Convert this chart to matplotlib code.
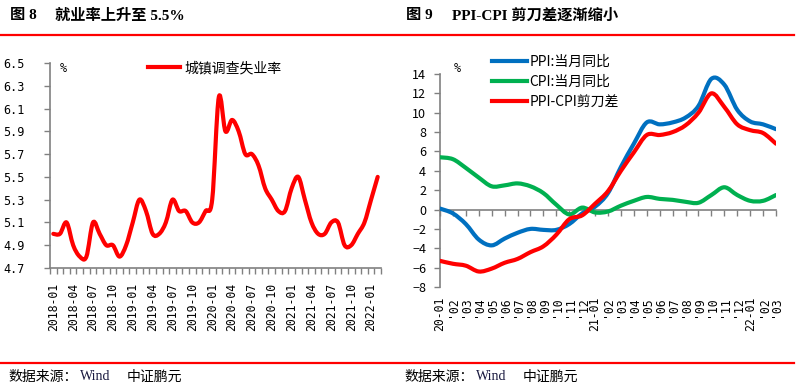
import matplotlib
matplotlib.use("Agg")
import matplotlib.pyplot as plt
import numpy as np
from matplotlib.path import Path
from matplotlib.patches import PathPatch
from matplotlib.lines import Line2D

plt.rcParams['font.family'] = ['Noto Sans CJK SC', 'DejaVu Sans']

# ---------------- data ----------------
months_left = [f"{y}-{m:02d}" for y in range(2018, 2023) for m in range(1, 13)][:50]
unemployment = [5.0, 5.0, 5.1, 4.9, 4.8, 4.8, 5.1, 5.0, 4.9, 4.9, 4.8, 4.9,
                5.1, 5.3, 5.2, 5.0, 5.0, 5.1, 5.3, 5.2, 5.2, 5.1, 5.1, 5.2,
                5.3, 6.2, 5.9, 6.0, 5.9, 5.7, 5.7, 5.6, 5.4, 5.3, 5.2, 5.2,
                5.4, 5.5, 5.3, 5.1, 5.0, 5.0, 5.1, 5.1, 4.9, 4.9, 5.0, 5.1,
                5.3, 5.5]
left_yticks = [4.7, 4.9, 5.1, 5.3, 5.5, 5.7, 5.9, 6.1, 6.3, 6.5]

right_labels = ["20-01", "'02", "'03", "'04", "'05", "'06", "'07", "'08", "'09", "'10", "'11", "'12",
                "21-01", "'02", "'03", "'04", "'05", "'06", "'07", "'08", "'09", "'10", "'11", "'12",
                "22-01", "'02", "'03"]
ppi = [0.1, -0.4, -1.5, -3.1, -3.7, -3.0, -2.4, -2.0, -2.1, -2.1, -1.5, -0.4,
       0.3, 1.7, 4.4, 6.8, 9.0, 8.8, 9.0, 9.5, 10.7, 13.5, 12.9, 10.3,
       9.1, 8.8, 8.3]
cpi = [5.4, 5.2, 4.3, 3.3, 2.4, 2.5, 2.7, 2.4, 1.7, 0.5, -0.5, 0.2,
       -0.3, -0.2, 0.4, 0.9, 1.3, 1.1, 1.0, 0.8, 0.7, 1.5, 2.3, 1.5,
       0.9, 0.9, 1.5]
scissors = [-5.3, -5.6, -5.8, -6.4, -6.1, -5.5, -5.1, -4.4, -3.8, -2.6, -1.0, -0.6,
            0.6, 1.9, 4.0, 5.9, 7.7, 7.7, 8.0, 8.7, 10.0, 12.0, 10.6, 8.8,
            8.2, 7.9, 6.8]
right_yticks = [-8, -6, -4, -2, 0, 2, 4, 6, 8, 10, 12, 14]

RED = '#FF0000'
BLUE = '#0070C0'
GREEN = '#00B050'
GRAY = '#808080'


def smooth_line(ax, x, y, color, lw):
    """Excel-like smoothed line: cubic Bezier segments through the data points."""
    x = np.asarray(x, float)
    y = np.asarray(y, float)
    n = len(x)
    verts = [(x[0], y[0])]
    codes = [Path.MOVETO]
    for i in range(n - 1):
        p0 = np.array([x[max(i - 1, 0)], y[max(i - 1, 0)]])
        p1 = np.array([x[i], y[i]])
        p2 = np.array([x[i + 1], y[i + 1]])
        p3 = np.array([x[min(i + 2, n - 1)], y[min(i + 2, n - 1)]])
        c1 = p1 + (p2 - p0) / 6.0
        c2 = p2 - (p3 - p1) / 6.0
        verts += [tuple(c1), tuple(c2), tuple(p2)]
        codes += [Path.CURVE4] * 3
    patch = PathPatch(Path(verts, codes), facecolor='none', edgecolor=color,
                      lw=lw, capstyle='round', joinstyle='round', zorder=3)
    ax.add_patch(patch)


W, H = 796, 391
fig = plt.figure(figsize=(W / 100, H / 100), dpi=100)


def fx(px):
    return px / W


def fy(py):
    return 1 - py / H


# ---------------- header / footer ----------------
fig.add_artist(Line2D([fx(0), fx(794)], [fy(35), fy(35)], color=RED, lw=1.6))
fig.add_artist(Line2D([fx(0), fx(794)], [fy(363), fy(363)], color=RED, lw=1.6))

title_kw = dict(fontsize=11, fontweight='bold', va='center', ha='left',
                family=['Liberation Serif', 'Noto Sans CJK SC'])
fig.text(fx(10), fy(16), "图 8", **title_kw)
fig.text(fx(55), fy(16), "就业率上升至 5.5%", **title_kw)
fig.text(fx(406), fy(16), "图 9", **title_kw)
fig.text(fx(452), fy(16), "PPI-CPI 剪刀差逐渐缩小", **title_kw)

foot_kw = dict(fontsize=10, va='center', ha='left')
for x0 in (8, 404):
    fig.text(fx(x0), fy(377), "数据来源：", **foot_kw)
    fig.text(fx(x0 + 72), fy(377), "Wind", fontsize=10, va='center', ha='left',
             family='Liberation Serif', color='#1a1a40')
    fig.text(fx(x0 + 119), fy(377), "中证鹏元", **foot_kw)

# ---------------- left chart ----------------
axL = fig.add_axes([fx(50), fy(268), fx(381) - fx(50), fy(63) - fy(268)])
xL = np.arange(len(unemployment))
smooth_line(axL, xL, unemployment, RED, 3.0)
axL.set_xlim(-0.5, len(unemployment) - 0.5)
axL.set_ylim(4.7, 6.5)
axL.set_yticks(left_yticks)
axL.set_yticklabels([f"{v:.1f}" for v in left_yticks], family='DejaVu Sans Mono', fontsize=8.5)
axL.set_xticks(xL[::3])
axL.set_xticklabels(months_left[::3], rotation=90, family='DejaVu Sans Mono', fontsize=8.3)
axL.set_xticks(np.arange(-0.5, len(unemployment)), minor=True)
axL.tick_params(axis='x', which='major', length=0, pad=11)
axL.tick_params(axis='x', which='minor', length=4, color=GRAY, width=1)
axL.tick_params(axis='y', length=4, color=GRAY, width=1, pad=14)
for s in ('top', 'right'):
    axL.spines[s].set_visible(False)
for s in ('left', 'bottom'):
    axL.spines[s].set_color(GRAY)
    axL.spines[s].set_linewidth(1.2)
fig.text(fx(60), fy(68), "%", fontsize=8.5, va='center', ha='left', family='DejaVu Sans Mono')
legL = fig.legend(handles=[Line2D([], [], color=RED, lw=3)], labels=["城镇调查失业率"],
                  loc='center left', bbox_to_anchor=(fx(148), fy(68)), frameon=False,
                  fontsize=10, handlelength=2.3, handletextpad=0.35, borderpad=0, borderaxespad=0)

# ---------------- right chart ----------------
axR = fig.add_axes([fx(440), fy(287), fx(776) - fx(440), fy(74) - fy(287)])
xR = np.arange(len(ppi))
smooth_line(axR, xR, ppi, BLUE, 3.0)
smooth_line(axR, xR, cpi, GREEN, 3.0)
smooth_line(axR, xR, scissors, RED, 3.0)
axR.set_xlim(0, len(ppi) - 1)
axR.set_ylim(-8, 14)
axR.set_yticks(right_yticks)
axR.set_yticklabels([f"{v}".replace('-', '\u2212') for v in right_yticks], fontsize=9)
axR.tick_params(axis='y', length=4, color=GRAY, width=1, pad=6)
axR.spines['bottom'].set_position(('data', 0))
axR.set_xticks(xR)
axR.set_xticklabels([])
axR.tick_params(axis='x', length=4, color=GRAY, width=1, direction='out')
for s in ('top', 'right'):
    axR.spines[s].set_visible(False)
for s in ('left', 'bottom'):
    axR.spines[s].set_color(GRAY)
    axR.spines[s].set_linewidth(1.2)
for xi, lab in zip(xR, right_labels):
    axR.text(xi, -0.045, lab, transform=axR.get_xaxis_transform(), rotation=90,
             ha='center', va='top', family='DejaVu Sans Mono', fontsize=8.3)
fig.text(fx(454), fy(69), "%", fontsize=8.5, va='center', ha='left', family='DejaVu Sans Mono')
legR = fig.legend(handles=[Line2D([], [], color=BLUE, lw=3),
                           Line2D([], [], color=GREEN, lw=3),
                           Line2D([], [], color=RED, lw=3)],
                  labels=["PPI:当月同比", "CPI:当月同比", "PPI-CPI剪刀差"],
                  loc='upper left', bbox_to_anchor=(fx(492), fy(55)), frameon=False,
                  fontsize=10, handlelength=2.5, handletextpad=0.2, borderpad=0,
                  borderaxespad=0, labelspacing=0.42)

fig.savefig("out.png", dpi=100)
